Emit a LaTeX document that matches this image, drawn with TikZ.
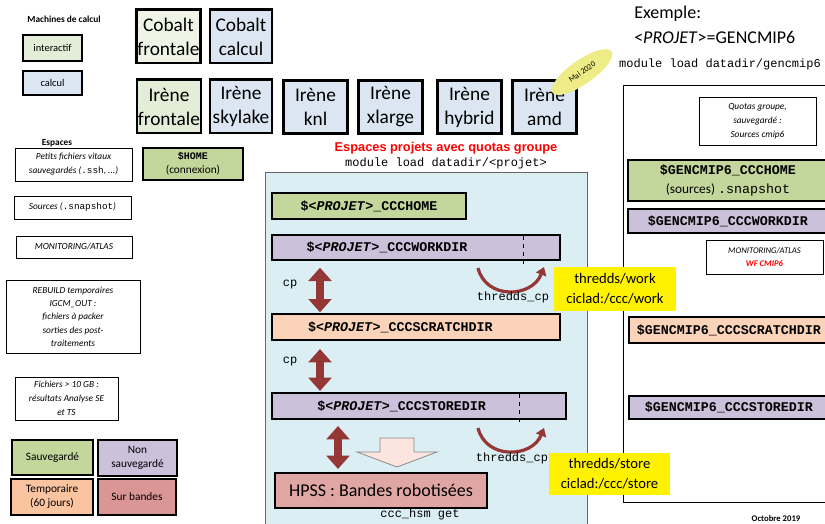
\documentclass[tikz,border=0pt]{standalone}
\usepackage{fontspec}
\setmainfont{Carlito}
\newfontfamily\couriertt{Liberation Mono}
\newfontfamily\arialfont{Liberation Sans}
\usetikzlibrary{arrows.meta,positioning,shapes.geometric}

\definecolor{sauvgreen}{HTML}{C3D69B}
\definecolor{nonsauv}{HTML}{CCC1DA}
\definecolor{tempo}{HTML}{FAC4A0}
\definecolor{bandes}{HTML}{DA9694}
\definecolor{interact}{HTML}{E4EDD7}
\definecolor{calc}{HTML}{DCE6F2}
\definecolor{projbg}{HTML}{DAEEF3}
\definecolor{cpred}{HTML}{953735}
\definecolor{maiyellow}{HTML}{EEEC86}
\definecolor{hollow}{HTML}{FCE4DF}

\begin{document}
\begin{tikzpicture}[x=0.75pt,y=0.75pt,yscale=-1,xscale=1,
	machine/.style={draw, line width=2pt, align=center, inner sep=0pt, minimum width=48pt, minimum height=40pt, font=\fontsize{14.5}{18}\selectfont},
	legend/.style={draw, line width=2pt, align=center, inner sep=0pt, font=\fontsize{8.5}{10.5}\selectfont},
	note/.style={draw, line width=0.6pt, align=center, inner sep=0pt, font=\itshape\fontsize{7}{10.5}\selectfont},
	dirbox/.style={draw, line width=1.5pt, inner sep=0pt, font=\couriertt\bfseries\fontsize{10}{12}\selectfont},
	codetxt/.style={inner sep=0pt, font=\couriertt\fontsize{9}{11}\selectfont},
	ylabel/.style={fill=yellow, inner sep=0pt, align=center, font=\fontsize{11}{15}\selectfont},
	cparrow/.style={draw=cpred, line width=5.5pt, {Triangle[width=17pt,length=10pt]}-{Triangle[width=17pt,length=10pt]}},
	thcurve/.style={draw=cpred, line width=2.4pt, -{Triangle[width=8pt,length=6pt]}}]
	\useasboundingbox (0,0) rectangle (825,524);
	
	%Shape: Rectangle [projets background]
	\node [draw=black!60, line width=0.8pt, fill=projbg, anchor=north west, minimum width=241.5pt, minimum height=268.5pt] (projets) at (265,172) {};
	%Shape: Rectangle [exemple background]
	\node [draw, line width=0.6pt, fill=white, anchor=north west, minimum width=157.5pt, minimum height=312.75pt] (exbox) at (623,85) {};
	
	% Text Node
	\node [font=\bfseries\fontsize{7}{8}\selectfont, inner sep=0pt] (titmach) at (64,19) {Machines de calcul};
	%Shape: Rectangle
	\node [legend, fill=interact, minimum width=44.25pt, minimum height=19.5pt, font=\fontsize{7.8}{9}\selectfont] (interactif) at (52.5,48) {interactif};
	\node [legend, fill=calc, minimum width=44.25pt, minimum height=18pt, font=\fontsize{7.8}{9}\selectfont] (calcul) at (52.5,83) {calcul};
	
	%Shape: machines
	\node [machine, fill=interact!60] (cobaltf) at (168.5,36.5) {Cobalt\\frontale};
	\node [machine, fill=calc, minimum width=46.5pt] (cobaltc) at (241,36.5) {Cobalt\\calcul};
	\node [machine, fill=interact] (irenef) at (169,106.5) {Irène\\frontale};
	\node [machine, fill=calc, minimum width=46.5pt] (irenes) at (241,106.5) {Irène\\skylake};
	\node [machine, fill=calc] (irenek) at (315.5,107) {Irène\\knl};
	\node [machine, fill=calc] (irenex) at (390.5,107) {Irène\\xlarge};
	\node [machine, fill=calc] (ireneh) at (469.5,107) {Irène\\hybrid};
	\node [machine, fill=calc] (irenea) at (544.5,107) {Irène\\amd};
	%Shape: Ellipse
	\node [ellipse, fill=maiyellow, rotate=35, minimum width=54pt, minimum height=18pt, inner sep=0pt, font=\fontsize{6}{7}\selectfont] (mai) at (582,72) {Mai 2020};
	
	% Text Node
	\node [font=\bfseries\fontsize{7}{8}\selectfont, inner sep=0pt] (titesp) at (57,143) {Espaces};
	\node [note, minimum width=87.75pt, minimum height=24.75pt] (petits) at (73.5,164.5) {Petits fichiers vitaux\\sauvegardés ({\couriertt\upshape .ssh}, ...)};
	\node [legend, fill=sauvgreen, minimum width=75pt, minimum height=24pt] (home) at (193,164) {{\couriertt\bfseries\fontsize{7.5}{9}\selectfont \$HOME}\\(connexion)};
	\node [note, minimum width=87.75pt, minimum height=17.25pt] (sources) at (72.5,207.5) {Sources ({\couriertt\upshape .snapshot})};
	\node [note, minimum width=87pt, minimum height=16.5pt] (monit) at (74,247) {MONITORING/ATLAS};
	\node [note, minimum width=100.5pt, minimum height=54.75pt, font=\itshape\fontsize{7}{10}\selectfont] (rebuild) at (73,316.5) {REBUILD temporaires\\IGCM\_OUT :\\fichiers à packer\\sorties des post-\\traitements};
	\node [note, minimum width=77.25pt, minimum height=32.25pt] (gros) at (66.5,398.5) {Fichiers > 10 GB :\\résultats Analyse SE\\et TS};
	
	%Shape: legend
	\node [legend, fill=sauvgreen, minimum width=60.75pt, minimum height=26.25pt] (legsauv) at (52.5,457.5) {Sauvegardé};
	\node [legend, fill=nonsauv, minimum width=59.25pt, minimum height=27pt] (legnon) at (137.5,458) {Non\\sauvegardé};
	\node [legend, fill=tempo, minimum width=61.5pt, minimum height=27pt] (legtemp) at (52,497) {Temporaire\\(60 jours)};
	\node [legend, fill=bandes, minimum width=58.5pt, minimum height=27pt] (legband) at (137,497) {Sur bandes};
	
	% Text Node
	\node [text=red, font=\arialfont\bfseries\fontsize{9.6}{11}\selectfont, inner sep=0pt] (titproj) at (446,148) {Espaces projets avec quotas groupe};
	\node [codetxt] (modproj) at (446,163) {module load datadir/<projet>};
	
	%Shape: directories
	\node [dirbox, fill=sauvgreen, minimum width=145.5pt, minimum height=19.5pt] (phome) at (369,206) {\$<\textit{PROJET}>\_CCCHOME};
	\node [dirbox, fill=nonsauv, minimum width=216pt, minimum height=18.75pt, text width=216pt, align=left] (work) at (416,247.5) {\hspace*{26pt}\$<\textit{PROJET}>\_CCCWORKDIR};
	\node [dirbox, fill=tempo!75, minimum width=216pt, minimum height=19.5pt, text width=216pt, align=left] (scratch) at (416,327) {\hspace*{27pt}\$<\textit{PROJET}>\_CCCSCRATCHDIR};
	\node [dirbox, fill=nonsauv, minimum width=220.5pt, minimum height=19.5pt, text width=220.5pt, align=left] (store) at (419,406) {\hspace*{34pt}\$<\textit{PROJET}>\_CCCSTOREDIR};
	\node [dirbox, fill=bandes!85, minimum width=159pt, minimum height=26.25pt, font=\fontsize{13.5}{15}\selectfont] (hpss) at (381,490.5) {HPSS : Bandes robotisées};
	
	%Straight Lines [dashed marks]
	\draw [dashed, line width=0.6pt] (523,236) -- (523,266);
	\draw [dashed, line width=0.6pt] (519,394) -- (519,425);
	
	%Straight Lines [cp arrows]
	\coordinate (cpx) at (320,0);
	\coordinate (hsmx) at (338,0);
	\draw [cparrow, shorten <=5pt, shorten >=0.5pt] (work.south -| cpx) -- (scratch.north -| cpx);
	\draw [cparrow, shorten <=6pt, shorten >=0.75pt] (scratch.south -| cpx) -- (store.north -| cpx);
	\draw [cparrow, shorten <=4.5pt, shorten >=2.25pt] (store.south -| hsmx) -- (hpss.north -| hsmx);
	\node [codetxt] (cp1) at (290,285) {cp};
	\node [codetxt] (cp2) at (290,362) {cp};
	
	%Curve Lines [thredds_cp]
	\coordinate (thw1) at (478,268);
	\coordinate (thw2) at (544,267);
	\coordinate (ths1) at (478,428);
	\coordinate (ths2) at (544,428);
	\draw [thcurve] (thw1) .. controls (486,300) and (532,298) .. (thw2);
	\draw [thcurve] (ths1) .. controls (486,460) and (532,458) .. (ths2);
	\node [codetxt] (thcpw) at (513,297) {thredds\_cp};
	\node [codetxt] (thcps) at (512,458) {thredds\_cp};
	
	%Shape: hollow down arrow
	\draw [fill=hollow, draw=black!45, line width=0.6pt] (380,438) -- (414,438) -- (414,452) -- (437,452) -- (397,467) -- (357,452) -- (380,452) -- cycle;
	\node [codetxt] (hsm) at (420,514) {ccc\_hsm get};
	
	%Shape: yellow labels
	\node [ylabel, minimum width=91.5pt, minimum height=33pt] (ywork) at (615,288.5) {thredds/work\\ciclad:/ccc/work};
	\node [ylabel, minimum width=90.75pt, minimum height=31.5pt] (ystore) at (609.5,474) {thredds/store\\ciclad:/ccc/store};
	
	% Text Node
	\node [anchor=west, inner sep=0pt, font=\fontsize{13.5}{16}\selectfont] (exemple) at (634,14) {Exemple:};
	\node [anchor=west, inner sep=0pt, font=\fontsize{13.5}{16}\selectfont] (projet) at (634,37) {<\textit{PROJET}>=GENCMIP6};
	\node [codetxt] (modgen) at (720,64) {module load datadir/gencmip6};
	\node [note, minimum width=87.75pt, minimum height=36pt] (quotas) at (757.5,121) {Quotas groupe,\\sauvegardé :\\Sources cmip6};
	
	%Shape: gencmip6 directories
	\node [dirbox, fill=sauvgreen, minimum width=150pt, minimum height=30.75pt, align=center, anchor=west, font=\couriertt\bfseries\fontsize{10}{14}\selectfont] (ghome) at (627,180.5) {\$GENCMIP6\_CCCHOME\\\rmfamily\mdseries\fontsize{10}{14}\selectfont (sources) \couriertt .snapshot};
	\node [dirbox, fill=nonsauv, minimum width=150pt, minimum height=18pt, anchor=west] (gwork) at (627,221) {\$GENCMIP6\_CCCWORKDIR};
	\node [note, minimum width=87.75pt, minimum height=25.5pt, font=\itshape\fontsize{6.5}{9.5}\selectfont] (monitgen) at (764.5,257) {MONITORING/ATLAS\\{\color{red}\bfseries WF CMIP6}};
	\node [dirbox, fill=tempo!75, minimum width=150pt, minimum height=19.5pt, anchor=west] (gscratch) at (628,330) {\$GENCMIP6\_CCCSCRATCHDIR};
	\node [dirbox, fill=nonsauv, minimum width=150pt, minimum height=17.25pt, anchor=west] (gstore) at (628,407.5) {\$GENCMIP6\_CCCSTOREDIR};
	
	% Text Node
	\node [font=\bfseries\fontsize{6.5}{8}\selectfont, inner sep=0pt] (date) at (776,518) {Octobre 2019};
\end{tikzpicture}
\end{document}
